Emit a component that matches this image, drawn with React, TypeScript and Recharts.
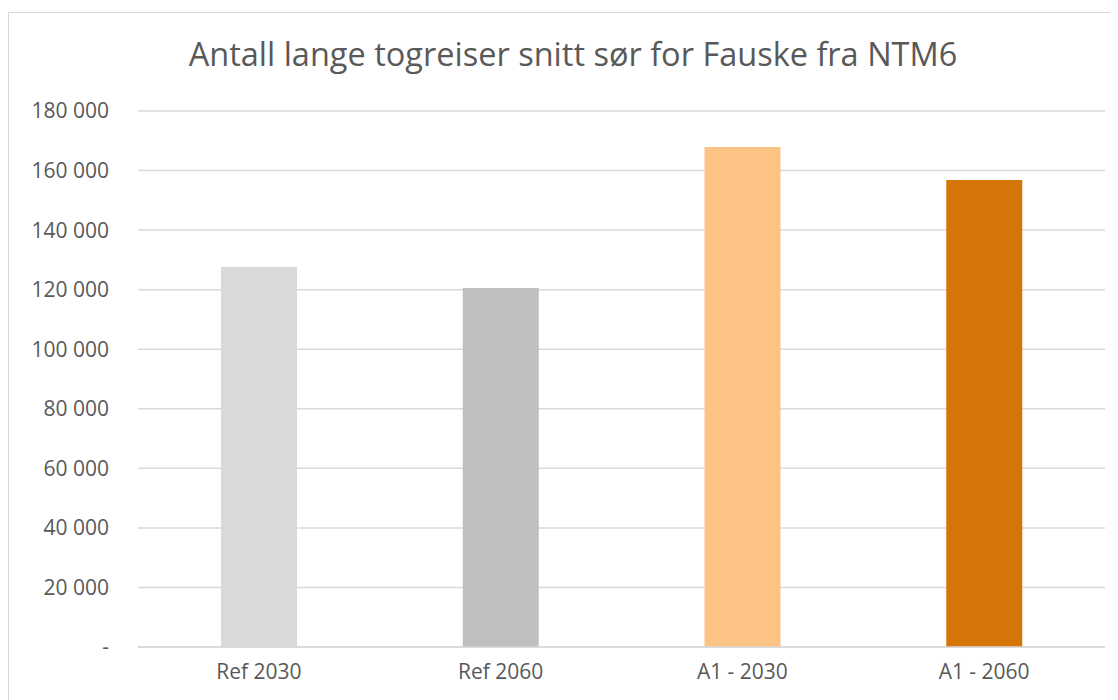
import React from 'react';
import { BarChart, Bar, XAxis, YAxis, CartesianGrid, Cell } from 'recharts';

const categories = ['Ref 2030', 'Ref 2060', 'A1 - 2030', 'A1 - 2060'];
const trips = [127600, 120600, 167900, 156800];
const yTicks = [0, 20000, 40000, 60000, 80000, 100000, 120000, 140000, 160000, 180000];

const barColors = ['#d9d9d9', '#bfbfbf', '#fbc485', '#d57507'];
const textColor = '#595959';
const font = '"Open Sans", sans-serif';

const data = categories.map((name, i) => ({ name, value: trips[i] }));

const formatTick = (v: number) =>
  v === 0 ? '-' : String(v).replace(/\B(?=(\d{3})+(?!\d))/g, ' ');

export default function App() {
  return (
    <div
      style={{
        position: 'relative',
        marginTop: 4,
        width: 1128,
        height: 700,
        border: '1px solid #d9d9d9',
        background: '#fff',
        fontFamily: font,
      }}
    >
      <div
        style={{
          position: 'absolute',
          top: 18,
          left: 0,
          width: '100%',
          textAlign: 'center',
          fontSize: 32.5,
          color: textColor,
        }}
      >
        Antall lange togreiser snitt sør for Fauske fra NTM6
      </div>
      <div style={{ position: 'absolute', top: 0, left: 0 }}>
        <BarChart
          width={1110}
          height={686}
          data={data}
          margin={{ top: 98, right: 14, bottom: 12, left: 9 }}
        >
          <CartesianGrid vertical={false} stroke="#d9d9d9" strokeWidth={1.5} />
          <XAxis
            dataKey="name"
            height={40}
            axisLine={{ stroke: '#d9d9d9', strokeWidth: 1.5 }}
            tickLine={false}
            tickSize={0}
            tickMargin={17}
            tick={{ fill: textColor, fontSize: 21, fontFamily: font }}
          />
          <YAxis
            width={120}
            domain={[0, 180000]}
            ticks={yTicks}
            interval={0}
            axisLine={false}
            tickLine={false}
            tickSize={0}
            tickMargin={29}
            tickFormatter={formatTick}
            tick={{ fill: textColor, fontSize: 21, fontFamily: font }}
          />
          <Bar dataKey="value" barSize={76} isAnimationActive={false}>
            {data.map((d, i) => (
              <Cell key={d.name} fill={barColors[i]} />
            ))}
          </Bar>
        </BarChart>
      </div>
    </div>
  );
}
